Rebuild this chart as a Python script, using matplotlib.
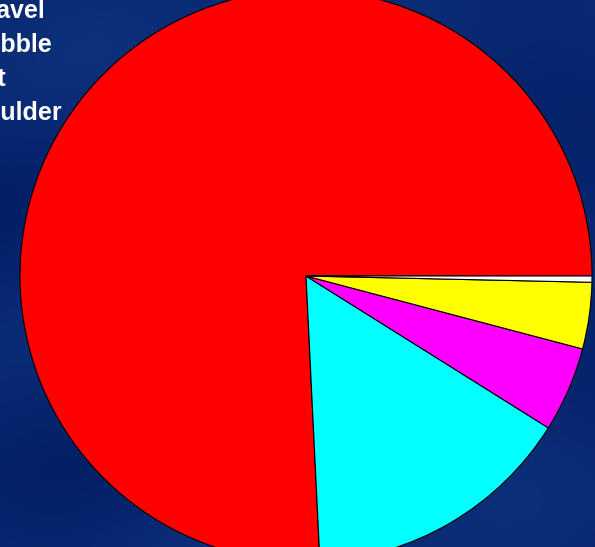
import matplotlib
matplotlib.use("Agg")
import matplotlib.pyplot as plt
import numpy as np

plt.rcParams['font.family'] = ['Liberation Sans', 'DejaVu Sans']

# sediment composition (percent), drawn counter-clockwise from 3 o'clock
labels = ['Gravel', 'Cobble', 'Silt', 'Boulder', 'Sand']
values = [75.7, 15.3, 4.8, 3.75, 0.35]
colors = ['#ff0000', '#00ffff', '#ff00ff', '#ffff00', '#ffffff']
legend_order = ['Sand', 'Gravel', 'Cobble', 'Silt', 'Boulder']

W, H = 595, 547
fig = plt.figure(figsize=(W / 100, H / 100), dpi=100)
fig.patch.set_facecolor('#06296f')

# soft blue backdrop (smooth, deterministic shading)
bg = fig.add_axes([0, 0, 1, 1])
yy, xx = np.mgrid[0:1:120j, 0:1:130j]
shade = 0.5 + 0.25 * np.sin(9 * xx + 4 * yy) * np.cos(7 * yy - 3 * xx) \
    + 0.25 * np.sin(13 * yy + 2 * xx)
base = np.array([0.01, 0.12, 0.40])
light = np.array([0.07, 0.22, 0.52])
img = base + (light - base) * shade[..., None] * 0.7
bg.imshow(np.clip(img, 0, 1), aspect='auto', extent=[0, 1, 0, 1],
          interpolation='bicubic')
bg.axis('off')

ax = fig.add_axes([0, 0, 1, 1])
ax.patch.set_alpha(0)

wedges, _ = ax.pie(values, colors=colors, startangle=0, counterclock=True,
                   wedgeprops=dict(edgecolor='black', linewidth=0.8))

# pie centre at (306, 276) px with radius 286 px
cx, cy, r = 306, 276, 286
ax.set_xlim(-cx / r, (W - cx) / r)
ax.set_ylim(-(H - cy) / r, cy / r)
ax.set_aspect('auto')
ax.axis('off')

# legend labels, largely cut off at the left edge
x0, base0, pitch = -33, -16, 34
for i, lab in enumerate(legend_order):
    fig.text(x0 / W, 1 - (base0 + i * pitch) / H, lab, color='white',
             fontsize=18, fontweight='bold', ha='left', va='baseline')

fig.savefig('out.png', dpi=100, facecolor=fig.get_facecolor())
